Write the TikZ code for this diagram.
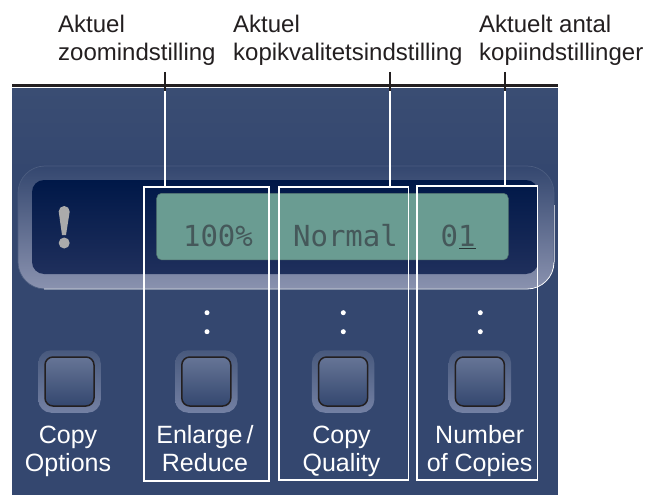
\documentclass[tikz,border=0pt]{standalone}
\usepackage{fontspec}
\setmainfont{Liberation Sans}
\newfontfamily\lcdfont{DejaVu Sans Mono}
\usetikzlibrary{arrows}

\definecolor{panelblue}{HTML}{34476F}
\definecolor{paneltop}{HTML}{3A4D73}
\definecolor{bezellow}{HTML}{8A92AF}
\definecolor{dispdark}{HTML}{001848}
\definecolor{displow}{HTML}{1F2F5C}
\definecolor{lcdgreen}{HTML}{6A9C92}
\definecolor{lcdtext}{HTML}{45585A}
\definecolor{padlow}{HTML}{7380A3}
\definecolor{captop}{HTML}{667596}
\definecolor{inkblack}{HTML}{231F20}

\begin{document}
\begin{tikzpicture}[
            x = 1pt,
            y = -1pt,
            node distance = 136.8pt, % distance between keys
            inner sep = 0pt
        ]

        \tikzstyle{framebox}=[
            draw = white,
            line width = 1.7pt,
            minimum width = 125pt,
            minimum height = 294pt
        ]
        \tikzstyle{keypad}=[
            rounded corners = 13pt,
            top color = panelblue!90!white,
            bottom color = padlow,
            minimum size = 62.5pt
        ]
        \tikzstyle{keycap}=[
            draw = inkblack,
            line width = 1.5pt,
            rounded corners = 8pt,
            top color = captop,
            bottom color = panelblue,
            minimum size = 49pt
        ]
        \tikzstyle{keylabel}=[
            text = white,
            align = center,
            anchor = north,
            font = \fontsize{25}{28}\selectfont
        ]
        \tikzstyle{callout}=[
            align = left,
            anchor = north west,
            text = inkblack,
            font = \fontsize{24}{28}\selectfont
        ]
        \tikzstyle{lcdtxt}=[
            anchor = base,
            text = lcdtext,
            font = \lcdfont\fontsize{29}{32}\selectfont
        ]
        \tikzstyle{tickline}=[inkblack, line width = 1.8pt]
        \tikzstyle{leaderline}=[white, line width = 1.7pt]
        \tikzstyle{dot}=[circle, fill = white, minimum size = 5pt]

        \useasboundingbox (0,0) rectangle (646,495);

        % panel
        \fill[panelblue] (12,88.5) rectangle (557.5,495);
        \shade[top color = paneltop, bottom color = panelblue] (12,88.5) rectangle (557.5,170);
        \draw[inkblack, line width = 2.4pt] (12,85.7) -- (557.5,85.7);

        % display
        \shade[top color = panelblue, bottom color = bezellow, rounded corners = 27pt]
            (18,166) rectangle (554,289);
        \draw[white!12!panelblue, line width = 0.7pt, rounded corners = 27pt]
            (18,166) rectangle (554,289);
        \draw[white, line width = 0.8pt]
            (44,289) -- (527,289) arc[start angle = -90, end angle = 0, radius = 27pt];
        \draw[white!65!panelblue, line width = 0.7pt]
            (554,262) -- (554,205);
        \shade[top color = dispdark, bottom color = displow, rounded corners = 12pt]
            (32,180) rectangle (538,274);
        \node[draw = lcdtext!60!lcdgreen, fill = lcdgreen, line width = 0.5pt, rounded corners = 5pt,
            minimum width = 351.6pt, minimum height = 66.7pt] (lcd) at (332.5,226.6) {};

        % warning sign
        \fill[black!33] (58.7,211.5) arc[start angle = 180, end angle = 0, radius = 5.5pt]
            -- (66,235) -- (62,235) -- cycle;
        \fill[black!33] (64.2,243) circle (5.5pt);

        \node[lcdtxt] (zoom) at (218,246) {100\%};
        \node[lcdtxt] (quality) at (345.5,246) {Normal};
        \node[lcdtxt] (copies) at (458,246) {01};
        \draw[lcdtext!60!black, line width = 1pt] (459,248) -- (476,248);

        % keys
        \node[keypad] (pad1) at (69.5,381.5) {};
        \node[keypad] (pad2) [right of=pad1] {};
        \node[keypad] (pad3) [right of=pad2] {};
        \node[keypad] (pad4) [right of=pad3] {};
        \node[keycap] (key1) at (pad1) {};
        \node[keycap] (key2) at (pad2) {};
        \node[keycap] (key3) at (pad3) {};
        \node[keycap] (key4) at (pad4) {};

        \node[dot] (dot2a) at (207,312.7) {};
        \node[dot] (dot2b) at (207,331.7) {};
        \node[dot] (dot3a) at (343.3,312.7) {};
        \node[dot] (dot3b) at (343.3,331.7) {};
        \node[dot] (dot4a) at (480.3,312.7) {};
        \node[dot] (dot4b) at (480.3,331.7) {};

        \node[keylabel] (name1) at (68,425.5) {Copy\\Options};
        \node[keylabel] (name2) at (205,425.5) {Enlarge\,/\\Reduce};
        \node[keylabel] (name3) at (341.5,425.5) {Copy\\Quality};
        \node[keylabel] (name4) at (479.7,425.5) {Number\\of Copies};

        % frames
        \node[framebox] (box1) at (206.7,334) {};
        \node[framebox, minimum width = 129.5pt, minimum height = 293pt] (box2) at (343.7,333.7) {};
        \node[framebox, minimum width = 120.7pt] (box3) at (477.1,333) {};

        % texts above
        \node[callout] (top1) at (58,14.5) {Aktuel\\zoomindstilling};
        \node[callout] (top2) at (233,14.5) {Aktuel\\kopikvalitetsindstilling};
        \node[callout] (top3) at (479,14.5) {Aktuelt antal\\kopiindstillinger};

        % leaders
        \coordinate (tick1) at (164.7,72);
        \coordinate (edge1) at (164.7,91);
        \coordinate (tick2) at (390,72);
        \coordinate (edge2) at (390,91);
        \coordinate (tick3) at (504.7,72);
        \coordinate (edge3) at (504.7,91);

        \draw[leaderline] (edge1) -- (edge1 |- box1.north);
        \draw[leaderline] (edge2) -- (edge2 |- box2.north);
        \draw[leaderline] (edge3) -- (edge3 |- box3.north);
        \draw[tickline] (tick1) -- (edge1);
        \draw[tickline] (tick2) -- (edge2);
        \draw[tickline] (tick3) -- (edge3);

    \end{tikzpicture}
\end{document}
